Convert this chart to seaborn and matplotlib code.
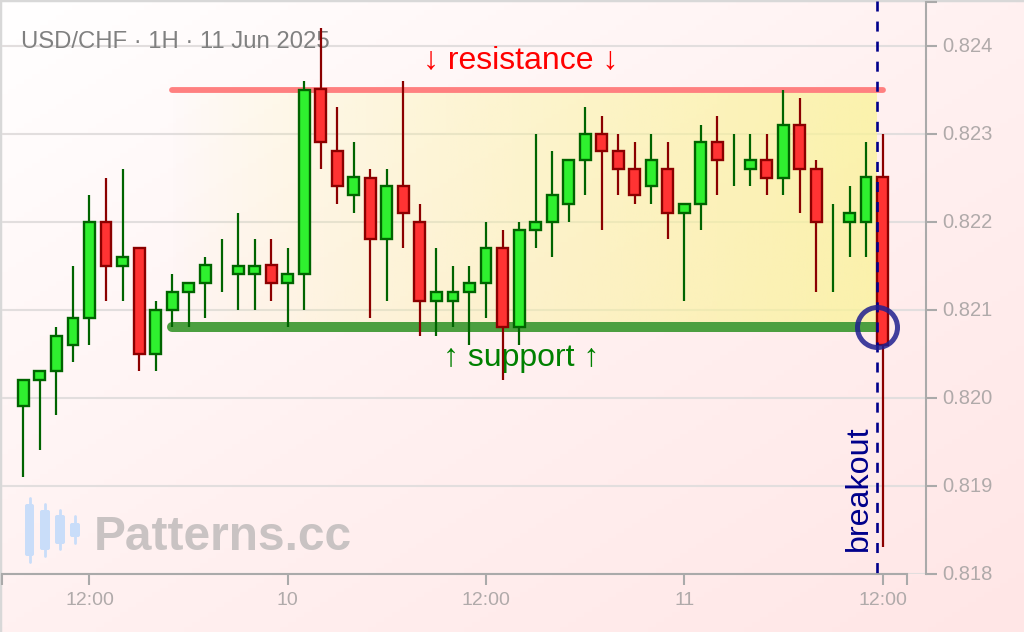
import matplotlib
matplotlib.use('Agg')
import matplotlib.pyplot as plt
from matplotlib.colors import LinearSegmentedColormap
from matplotlib.patches import FancyBboxPatch
from matplotlib.transforms import ScaledTranslation
import numpy as np
import pandas as pd
import seaborn as sns

# hourly candles, index 0 is 08:00 on the 9th
opens = [.8199, .8202, .8203, .8206, .8209, .8220, .8215, .8217, .8205, .8210, .8212, .8213, .8215,
         .8214, .8214, .8215, .8213, .8214, .8235, .8228, .8223, .8225, .8218, .8224, .8220, .8211,
         .8211, .8212, .8213, .8217, .8208, .8219, .8220, .8222, .8227, .8230, .8228, .8226, .8224,
         .8226, .8221, .8222, .8229, .8227, .8226, .8227, .8225, .8231, .8226, .8220, .8220, .8220, .8225]
highs = [.8202, .8203, .8208, .8215, .8223, .8225, .8226, .8217, .8211, .8214, .8213, .8216, .8218,
         .8221, .8218, .8218, .8217, .8236, .8242, .8233, .8229, .8226, .8226, .8236, .8222, .8217,
         .8215, .8215, .8220, .8219, .8220, .8230, .8228, .8227, .8233, .8232, .8230, .8229, .8230,
         .8229, .8222, .8231, .8232, .8230, .8230, .8230, .8235, .8234, .8227, .8222, .8224, .8229, .8230]
lows = [.8191, .8194, .8198, .8204, .8206, .8211, .8211, .8203, .8203, .8208, .8208, .8209, .8212,
        .8210, .8210, .8211, .8208, .8210, .8226, .8222, .8221, .8209, .8211, .8217, .8207, .8207,
        .8208, .8206, .8209, .8202, .8206, .8217, .8216, .8220, .8223, .8219, .8223, .8222, .8222,
        .8218, .8211, .8219, .8223, .8224, .8224, .8223, .8223, .8221, .8212, .8212, .8216, .8216, .8183]
closes = [.8202, .8203, .8207, .8209, .8220, .8215, .8216, .8205, .8210, .8212, .8213, .8215, .8215,
          .8215, .8215, .8213, .8214, .8235, .8229, .8224, .8225, .8218, .8224, .8221, .8211, .8212,
          .8212, .8213, .8217, .8208, .8219, .8220, .8223, .8227, .8230, .8228, .8226, .8223, .8227,
          .8221, .8222, .8229, .8227, .8227, .8227, .8225, .8231, .8226, .8220, .8220, .8221, .8225, .8206]

y_ticks = [.818, .819, .820, .821, .822, .823, .824]
x_ticks = [4, 16, 28, 40, 52]
x_labels = ['12:00', '10', '12:00', '11', '12:00']
resistance = .8235
support = .8208
level_start = 9
level_end = 52
breakout_x = 51.67

# watermark logo: left, right, top, bottom of the body, top and bottom of the wick (pixels)
logo_left = [25, 40, 55, 70]
logo_right = [34, 50, 65, 80]
logo_top = [504, 510, 515, 523]
logo_bottom = [556, 550, 544, 537]
logo_wick_top = [498, 504, 510, 516]
logo_wick_bottom = [562, 556, 549, 543]

GREEN, GREEN_DARK = '#2ff02f', '#006400'
RED, RED_DARK = '#ff3333', '#8b0000'
AXIS = '#aaaaaa'

sns.set_theme(style='white')
plt.rcParams['font.family'] = ['Liberation Sans', 'DejaVu Sans']

df = pd.DataFrame({'open': opens, 'high': highs, 'low': lows, 'close': closes})
df['candle'] = df.index
df['up'] = df['close'] >= df['open']
wicks = df.melt(id_vars=['candle', 'up'], value_vars=['low', 'high'], value_name='price')

fig = plt.figure(figsize=(10.24, 6.32), dpi=100)

# page background, frame, watermark
bg = fig.add_axes([0, 0, 1, 1], zorder=0)
page = LinearSegmentedColormap.from_list('page', ['#ffffff', '#fff1f1', '#ffe6e6'])
gx, gy = np.meshgrid(np.linspace(0, 1, 128), np.linspace(0, 1, 128))
bg.imshow((gx + gy) / 2, cmap=page, extent=[0, 1024, 632, 0], aspect='auto', vmin=0, vmax=1)
bg.set_xlim(0, 1024)
bg.set_ylim(632, 0)
bg.set_xticks([])
bg.set_yticks([])
for side in ['right', 'bottom']:
    bg.spines[side].set_visible(False)
for side in ['left', 'top']:
    bg.spines[side].set_color('#d8d8d8')
    bg.spines[side].set_linewidth(2.5)

for l, r, t, b, wt, wb in zip(logo_left, logo_right, logo_top, logo_bottom, logo_wick_top, logo_wick_bottom):
    bg.add_patch(FancyBboxPatch((l + 2, t + 2), r - l - 4, b - t - 4, boxstyle='round,pad=2',
                                fc='#c9ddf9', ec='none'))
    bg.plot([(l + r) / 2] * 2, [wt, wb], color='#c9ddf9', lw=2)
bg.text(94, 537, 'Patterns.cc', fontsize=34.5, fontweight='bold', color='#c9c3c3', ha='left', va='center')

# chart
ax = fig.add_axes([2 / 1024, 58.5 / 632, 924 / 1024, 572 / 632], zorder=1)
ax.patch.set_alpha(0)

ax.hlines(y_ticks, -2, 55, color='#e2dede', lw=1.5, zorder=0.5)

band = np.ones((1, 256, 4))
band[..., :3] = np.array([250, 243, 150]) / 255
band[..., 3] = 0.75 * np.linspace(0, 1, 256) ** 0.85
ax.imshow(band, extent=[level_start - 0.1, breakout_x, support, resistance], aspect='auto', zorder=1)

ax.plot([level_start, level_end], [resistance, resistance], color='#ff8080', lw=4.2,
        solid_capstyle='round', zorder=2)
ax.plot([level_start, level_end], [support, support], color='#4c9f40', lw=7.2,
        solid_capstyle='round', zorder=2)

ax.text(30.1, .82366, '↓ resistance ↓', fontsize=23, color='#ff0000', ha='center', va='bottom', zorder=2.5)
ax.text(30.1, .82062, '↑ support ↑', fontsize=23, color='#008000', ha='center', va='top', zorder=2.5)
ax.text(-0.15, .82392, 'USD/CHF · 1H · 11 Jun 2025', fontsize=17.2, color='#808080', ha='left', va='bottom',
        zorder=2.5)
ax.text(50.55, .81826, 'breakout', fontsize=23.2, color='#00008b', rotation=90, ha='center', va='bottom',
        zorder=2.5)

sns.lineplot(data=wicks, x='candle', y='price', hue='up', units='candle', estimator=None,
             palette={True: GREEN_DARK, False: RED_DARK}, legend=False, lw=1.6, ax=ax, zorder=3,
             solid_capstyle='butt')

for up, fill, edge in [(True, GREEN, GREEN_DARK), (False, RED, RED_DARK)]:
    sub = df[(df['up'] == up) & (df['open'] != df['close'])]
    ax.bar(sub['candle'], (sub['close'] - sub['open']).abs(), bottom=sub[['open', 'close']].min(axis=1),
           width=0.66, color=fill, edgecolor=edge, linewidth=1.7, zorder=3.5)

# drawn top down so the dashes line up with the top of the picture
ax.plot([breakout_x, breakout_x], [.82451, .818], color='#00008b', lw=1.9, linestyle=(0, (3.8, 3.8)),
        zorder=4, clip_on=False)
ax.plot([breakout_x], [support], marker='o', ms=28.8, mfc='none', mec='#1f1f8f', mew=3.6, alpha=0.85,
        zorder=5)

ax.set_xlim(-1.295, 54.63)
ax.set_ylim(.818, .8245)
ax.set_xlabel('')
ax.set_ylabel('')

ax.yaxis.tick_right()
ax.set_yticks(y_ticks + [.8245])
ax.set_yticklabels([f'{v:.3f}' for v in y_ticks] + [''])
ax.set_xticks([-1.295] + x_ticks + [53.5])
ax.set_xticklabels([''] + x_labels + [''])
ax.tick_params(axis='both', length=8, width=1.5, color=AXIS, labelcolor='#b0aaaa', bottom=True, right=True)
ax.tick_params(axis='x', labelsize=14, pad=5)
ax.tick_params(axis='y', labelsize=14.5, pad=4)

# y labels sit a little above their tick
nudge = ScaledTranslation(0, 1.5 / 100, fig.dpi_scale_trans)
for lab in ax.get_yticklabels():
    lab.set_transform(lab.get_transform() + nudge)

for side in ['top', 'left']:
    ax.spines[side].set_visible(False)
for side in ['right', 'bottom']:
    ax.spines[side].set_color(AXIS)
    ax.spines[side].set_linewidth(1.5)
ax.spines['bottom'].set_bounds(-1.295, 53.5)

fig.savefig('out.png', dpi=100)
